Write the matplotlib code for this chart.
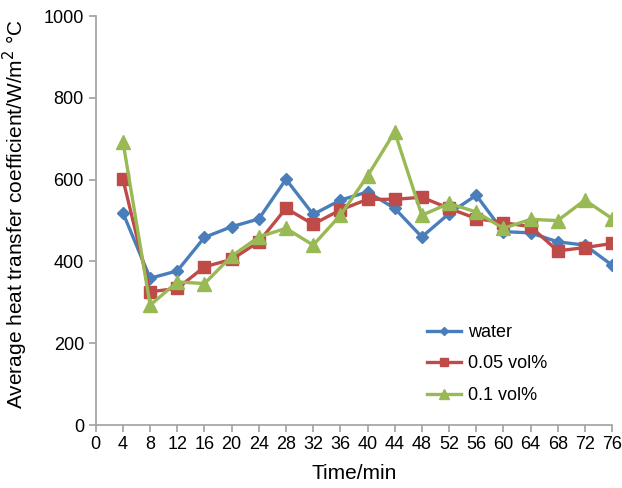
import matplotlib
matplotlib.use("Agg")
import matplotlib.pyplot as plt

plt.rcParams["font.family"] = ["Liberation Sans", "DejaVu Sans"]

# Data
time_min = [4, 8, 12, 16, 20, 24, 28, 32, 36, 40, 44, 48, 52, 56, 60, 64, 68, 72, 76]
water = [519, 359, 377, 459, 485, 504, 601, 515, 550, 570, 530, 460, 517, 562, 473, 470, 448, 440, 391]
vol_005 = [601, 326, 334, 387, 405, 448, 530, 491, 526, 552, 552, 557, 530, 505, 495, 485, 426, 434, 444]
vol_01 = [693, 293, 350, 346, 413, 460, 481, 440, 513, 609, 717, 513, 542, 521, 481, 503, 500, 550, 505]

fig = plt.figure(figsize=(6.22, 4.88), dpi=100)
ax = fig.add_axes([0.154, 0.129, 0.83, 0.838])

ax.plot(time_min, water, color="#4A7EBB", lw=2.4, marker="D", ms=6, label="water")
ax.plot(time_min, vol_005, color="#BE4B48", lw=2.4, marker="s", ms=9, label="0.05 vol%")
ax.plot(time_min, vol_01, color="#98B954", lw=2.4, marker="^", ms=10, label="0.1 vol%")

ax.set_xlim(0, 76)
ax.set_ylim(0, 1000)
ax.set_xticks(range(0, 77, 4))
ax.set_yticks(range(0, 1001, 200))

for side in ["top", "right"]:
    ax.spines[side].set_visible(False)
for side in ["left", "bottom"]:
    ax.spines[side].set_color("#A0A0A0")
    ax.spines[side].set_linewidth(1.2)
ax.tick_params(axis="both", colors="#A0A0A0", length=5, width=1.2, labelsize=13, labelcolor="black")
ax.tick_params(axis="x", pad=3)

ax.set_xlabel("Time/min", fontsize=15, labelpad=8)
ax.set_ylabel("Average heat transfer coefficient/W/m$^2$ °C", fontsize=15)
ax.yaxis.set_label_coords(-0.127, 0.515)

ax.legend(loc="lower left", bbox_to_anchor=(0.61, 0.012), frameon=False, fontsize=13,
          handlelength=1.9, handletextpad=0.4, labelspacing=0.8, markerscale=0.7)

fig.savefig("out.png", dpi=100)
